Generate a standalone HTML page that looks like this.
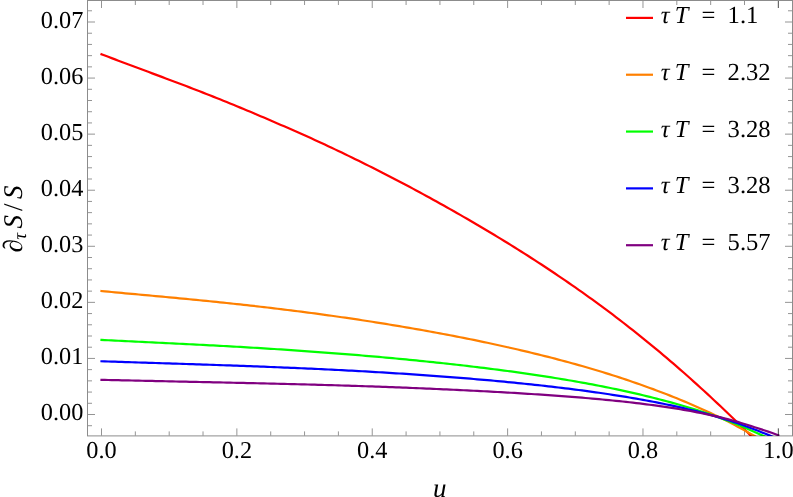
<!DOCTYPE html>
<html><head><meta charset="utf-8"><title>plot</title>
<style>html,body{margin:0;padding:0;background:#fff;}svg{display:block;will-change:transform;}text{text-rendering:geometricPrecision;font-family:"Liberation Serif",serif;fill:#000;}</style></head>
<body>
<svg width="793" height="497" viewBox="0 0 793 497" role="img" aria-label="Plot of d_tau S / S versus u for tau T = 1.1, 2.32, 3.28, 3.28, 5.57">
<title>Plot of ∂τS/S versus u for several values of τT</title>
<rect width="793" height="497" fill="#fff"/>
<defs><clipPath id="cp"><rect x="87.50" y="0.50" width="705.00" height="435.40"/></clipPath></defs>
<g clip-path="url(#cp)" fill="none" stroke-width="2.20" stroke-linejoin="round" stroke-linecap="square">
<path stroke="#ff0000" d="M101.50 54.25 L104.88 55.55 L108.27 56.84 L111.65 58.12 L115.04 59.40 L118.42 60.68 L121.81 61.95 L125.19 63.23 L128.57 64.50 L131.96 65.76 L135.34 67.03 L138.73 68.29 L142.11 69.56 L145.50 70.82 L148.88 72.09 L152.26 73.35 L155.65 74.62 L159.03 75.88 L162.42 77.15 L165.80 78.42 L169.19 79.69 L172.57 80.96 L175.95 82.23 L179.34 83.51 L182.72 84.79 L186.11 86.07 L189.49 87.37 L192.87 88.67 L196.26 89.98 L199.64 91.29 L203.03 92.61 L206.41 93.94 L209.80 95.27 L213.18 96.61 L216.56 97.96 L219.95 99.32 L223.33 100.68 L226.72 102.05 L230.10 103.43 L233.49 104.82 L236.87 106.21 L240.25 107.61 L243.64 109.02 L247.02 110.44 L250.41 111.86 L253.79 113.29 L257.18 114.73 L260.56 116.17 L263.94 117.61 L267.33 119.06 L270.71 120.51 L274.10 121.97 L277.48 123.43 L280.87 124.89 L284.25 126.36 L287.63 127.84 L291.02 129.32 L294.40 130.81 L297.79 132.30 L301.17 133.81 L304.56 135.32 L307.94 136.84 L311.32 138.37 L314.71 139.91 L318.09 141.46 L321.48 143.02 L324.86 144.59 L328.24 146.17 L331.63 147.76 L335.01 149.37 L338.40 150.99 L341.78 152.61 L345.17 154.24 L348.55 155.88 L351.93 157.53 L355.32 159.18 L358.70 160.84 L362.09 162.52 L365.47 164.19 L368.86 165.88 L372.24 167.58 L375.62 169.28 L379.01 171.00 L382.39 172.72 L385.78 174.45 L389.16 176.19 L392.55 177.94 L395.93 179.70 L399.31 181.47 L402.70 183.25 L406.08 185.04 L409.47 186.84 L412.85 188.65 L416.24 190.47 L419.62 192.30 L423.00 194.13 L426.39 195.98 L429.77 197.83 L433.16 199.69 L436.54 201.57 L439.93 203.44 L443.31 205.33 L446.69 207.23 L450.08 209.14 L453.46 211.05 L456.85 212.98 L460.23 214.91 L463.61 216.85 L467.00 218.81 L470.38 220.77 L473.77 222.74 L477.15 224.73 L480.54 226.72 L483.92 228.72 L487.30 230.74 L490.69 232.76 L494.07 234.80 L497.46 236.84 L500.84 238.90 L504.23 240.97 L507.61 243.05 L510.99 245.14 L514.38 247.25 L517.76 249.36 L521.15 251.49 L524.53 253.64 L527.92 255.79 L531.30 257.96 L534.68 260.14 L538.07 262.34 L541.45 264.54 L544.84 266.77 L548.22 269.00 L551.61 271.25 L554.99 273.52 L558.37 275.80 L561.76 278.10 L565.14 280.41 L568.53 282.73 L571.91 285.07 L575.30 287.43 L578.68 289.81 L582.06 292.20 L585.45 294.60 L588.83 297.03 L592.22 299.47 L595.60 301.93 L598.98 304.41 L602.37 306.90 L605.75 309.41 L609.14 311.94 L612.52 314.49 L615.91 317.06 L619.29 319.64 L622.67 322.25 L626.06 324.87 L629.44 327.51 L632.83 330.18 L636.21 332.86 L639.60 335.56 L642.98 338.28 L646.36 341.03 L649.75 343.79 L653.13 346.57 L656.52 349.37 L659.90 352.20 L663.29 355.04 L666.67 357.91 L670.05 360.79 L673.44 363.70 L676.82 366.63 L680.21 369.57 L683.59 372.54 L686.98 375.53 L690.36 378.54 L693.74 381.57 L697.13 384.63 L700.51 387.70 L703.90 390.79 L707.28 393.91 L710.67 397.04 L714.05 400.20 L717.43 403.37 L720.82 406.57 L724.20 409.78 L727.59 413.01 L730.97 416.27 L734.35 419.54 L737.74 422.83 L741.12 426.14 L744.51 429.47 L747.89 432.81 L751.28 436.17 L754.66 439.55 L758.04 442.95 L761.43 446.36 L764.81 449.79 L768.20 453.23 L771.58 456.68 L774.97 460.15 L778.35 463.63"/>
<path stroke="#ff8000" d="M101.50 291.05 L104.88 291.37 L108.27 291.70 L111.65 292.01 L115.04 292.33 L118.42 292.65 L121.81 292.96 L125.19 293.28 L128.57 293.59 L131.96 293.90 L135.34 294.21 L138.73 294.52 L142.11 294.83 L145.50 295.14 L148.88 295.45 L152.26 295.76 L155.65 296.08 L159.03 296.39 L162.42 296.70 L165.80 297.02 L169.19 297.33 L172.57 297.65 L175.95 297.97 L179.34 298.29 L182.72 298.61 L186.11 298.94 L189.49 299.26 L192.87 299.59 L196.26 299.92 L199.64 300.25 L203.03 300.59 L206.41 300.93 L209.80 301.27 L213.18 301.61 L216.56 301.95 L219.95 302.30 L223.33 302.65 L226.72 303.01 L230.10 303.36 L233.49 303.73 L236.87 304.09 L240.25 304.46 L243.64 304.83 L247.02 305.20 L250.41 305.58 L253.79 305.96 L257.18 306.34 L260.56 306.73 L263.94 307.12 L267.33 307.52 L270.71 307.92 L274.10 308.32 L277.48 308.72 L280.87 309.13 L284.25 309.55 L287.63 309.97 L291.02 310.39 L294.40 310.81 L297.79 311.25 L301.17 311.68 L304.56 312.12 L307.94 312.56 L311.32 313.01 L314.71 313.46 L318.09 313.91 L321.48 314.37 L324.86 314.83 L328.24 315.30 L331.63 315.77 L335.01 316.25 L338.40 316.73 L341.78 317.22 L345.17 317.71 L348.55 318.20 L351.93 318.70 L355.32 319.20 L358.70 319.71 L362.09 320.22 L365.47 320.74 L368.86 321.26 L372.24 321.78 L375.62 322.32 L379.01 322.85 L382.39 323.39 L385.78 323.94 L389.16 324.49 L392.55 325.04 L395.93 325.60 L399.31 326.16 L402.70 326.73 L406.08 327.31 L409.47 327.89 L412.85 328.47 L416.24 329.06 L419.62 329.66 L423.00 330.26 L426.39 330.87 L429.77 331.48 L433.16 332.09 L436.54 332.72 L439.93 333.34 L443.31 333.98 L446.69 334.62 L450.08 335.26 L453.46 335.91 L456.85 336.57 L460.23 337.24 L463.61 337.90 L467.00 338.58 L470.38 339.26 L473.77 339.95 L477.15 340.65 L480.54 341.35 L483.92 342.06 L487.30 342.77 L490.69 343.49 L494.07 344.22 L497.46 344.96 L500.84 345.70 L504.23 346.45 L507.61 347.21 L510.99 347.97 L514.38 348.75 L517.76 349.53 L521.15 350.32 L524.53 351.12 L527.92 351.92 L531.30 352.73 L534.68 353.56 L538.07 354.39 L541.45 355.23 L544.84 356.08 L548.22 356.94 L551.61 357.80 L554.99 358.68 L558.37 359.57 L561.76 360.46 L565.14 361.37 L568.53 362.29 L571.91 363.22 L575.30 364.15 L578.68 365.10 L582.06 366.06 L585.45 367.03 L588.83 368.02 L592.22 369.01 L595.60 370.02 L598.98 371.03 L602.37 372.06 L605.75 373.11 L609.14 374.16 L612.52 375.23 L615.91 376.31 L619.29 377.41 L622.67 378.52 L626.06 379.64 L629.44 380.77 L632.83 381.93 L636.21 383.09 L639.60 384.27 L642.98 385.47 L646.36 386.68 L649.75 387.91 L653.13 389.15 L656.52 390.41 L659.90 391.69 L663.29 392.98 L666.67 394.29 L670.05 395.62 L673.44 396.97 L676.82 398.33 L680.21 399.72 L683.59 401.12 L686.98 402.54 L690.36 403.98 L693.74 405.44 L697.13 406.92 L700.51 408.42 L703.90 409.95 L707.28 411.49 L710.67 413.05 L714.05 414.64 L717.43 416.25 L720.82 417.91 L724.20 419.60 L727.59 421.33 L730.97 423.09 L734.35 424.88 L737.74 426.69 L741.12 428.52 L744.51 430.38 L747.89 432.25 L751.28 434.13 L754.66 436.02 L758.04 437.92 L761.43 439.86 L764.81 441.82 L768.20 443.80 L771.58 445.82 L774.97 447.87 L778.35 449.94"/>
<path stroke="#00ff00" d="M101.50 339.88 L104.88 340.06 L108.27 340.23 L111.65 340.41 L115.04 340.58 L118.42 340.75 L121.81 340.92 L125.19 341.09 L128.57 341.25 L131.96 341.42 L135.34 341.58 L138.73 341.75 L142.11 341.91 L145.50 342.08 L148.88 342.24 L152.26 342.41 L155.65 342.57 L159.03 342.74 L162.42 342.90 L165.80 343.07 L169.19 343.23 L172.57 343.40 L175.95 343.56 L179.34 343.73 L182.72 343.90 L186.11 344.07 L189.49 344.24 L192.87 344.41 L196.26 344.58 L199.64 344.76 L203.03 344.93 L206.41 345.11 L209.80 345.29 L213.18 345.47 L216.56 345.65 L219.95 345.83 L223.33 346.01 L226.72 346.20 L230.10 346.39 L233.49 346.58 L236.87 346.77 L240.25 346.96 L243.64 347.16 L247.02 347.35 L250.41 347.55 L253.79 347.76 L257.18 347.96 L260.56 348.16 L263.94 348.37 L267.33 348.58 L270.71 348.80 L274.10 349.01 L277.48 349.23 L280.87 349.45 L284.25 349.67 L287.63 349.89 L291.02 350.12 L294.40 350.35 L297.79 350.58 L301.17 350.82 L304.56 351.05 L307.94 351.29 L311.32 351.53 L314.71 351.78 L318.09 352.03 L321.48 352.28 L324.86 352.53 L328.24 352.78 L331.63 353.04 L335.01 353.30 L338.40 353.57 L341.78 353.83 L345.17 354.10 L348.55 354.37 L351.93 354.65 L355.32 354.93 L358.70 355.21 L362.09 355.49 L365.47 355.78 L368.86 356.07 L372.24 356.36 L375.62 356.65 L379.01 356.95 L382.39 357.26 L385.78 357.56 L389.16 357.87 L392.55 358.18 L395.93 358.49 L399.31 358.81 L402.70 359.13 L406.08 359.46 L409.47 359.79 L412.85 360.12 L416.24 360.45 L419.62 360.79 L423.00 361.13 L426.39 361.48 L429.77 361.83 L433.16 362.18 L436.54 362.54 L439.93 362.90 L443.31 363.26 L446.69 363.63 L450.08 364.00 L453.46 364.38 L456.85 364.76 L460.23 365.14 L463.61 365.53 L467.00 365.92 L470.38 366.32 L473.77 366.72 L477.15 367.13 L480.54 367.54 L483.92 367.96 L487.30 368.38 L490.69 368.80 L494.07 369.23 L497.46 369.67 L500.84 370.11 L504.23 370.56 L507.61 371.01 L510.99 371.46 L514.38 371.93 L517.76 372.40 L521.15 372.87 L524.53 373.35 L527.92 373.84 L531.30 374.33 L534.68 374.83 L538.07 375.34 L541.45 375.85 L544.84 376.37 L548.22 376.89 L551.61 377.43 L554.99 377.97 L558.37 378.52 L561.76 379.07 L565.14 379.64 L568.53 380.21 L571.91 380.79 L575.30 381.38 L578.68 381.98 L582.06 382.58 L585.45 383.20 L588.83 383.82 L592.22 384.45 L595.60 385.10 L598.98 385.75 L602.37 386.41 L605.75 387.09 L609.14 387.77 L612.52 388.46 L615.91 389.17 L619.29 389.89 L622.67 390.62 L626.06 391.36 L629.44 392.11 L632.83 392.87 L636.21 393.65 L639.60 394.44 L642.98 395.24 L646.36 396.06 L649.75 396.89 L653.13 397.73 L656.52 398.59 L659.90 399.46 L663.29 400.35 L666.67 401.26 L670.05 402.17 L673.44 403.11 L676.82 404.06 L680.21 405.03 L683.59 406.02 L686.98 407.02 L690.36 408.04 L693.74 409.08 L697.13 410.14 L700.51 411.21 L703.90 412.31 L707.28 413.42 L710.67 414.56 L714.05 415.72 L717.43 416.90 L720.82 418.12 L724.20 419.37 L727.59 420.65 L730.97 421.97 L734.35 423.32 L737.74 424.69 L741.12 426.09 L744.51 427.51 L747.89 428.96 L751.28 430.42 L754.66 431.91 L758.04 433.41 L761.43 434.93 L764.81 436.46 L768.20 438.01 L771.58 439.59 L774.97 441.20 L778.35 442.84"/>
<path stroke="#0000ff" d="M101.50 361.27 L104.88 361.38 L108.27 361.49 L111.65 361.60 L115.04 361.71 L118.42 361.82 L121.81 361.93 L125.19 362.04 L128.57 362.15 L131.96 362.26 L135.34 362.37 L138.73 362.48 L142.11 362.58 L145.50 362.69 L148.88 362.80 L152.26 362.91 L155.65 363.02 L159.03 363.12 L162.42 363.23 L165.80 363.34 L169.19 363.45 L172.57 363.56 L175.95 363.66 L179.34 363.77 L182.72 363.88 L186.11 363.99 L189.49 364.10 L192.87 364.21 L196.26 364.32 L199.64 364.43 L203.03 364.55 L206.41 364.66 L209.80 364.77 L213.18 364.89 L216.56 365.00 L219.95 365.12 L223.33 365.23 L226.72 365.35 L230.10 365.47 L233.49 365.59 L236.87 365.71 L240.25 365.83 L243.64 365.95 L247.02 366.08 L250.41 366.20 L253.79 366.33 L257.18 366.46 L260.56 366.59 L263.94 366.72 L267.33 366.85 L270.71 366.98 L274.10 367.12 L277.48 367.25 L280.87 367.39 L284.25 367.53 L287.63 367.67 L291.02 367.81 L294.40 367.96 L297.79 368.11 L301.17 368.25 L304.56 368.40 L307.94 368.56 L311.32 368.71 L314.71 368.87 L318.09 369.02 L321.48 369.18 L324.86 369.35 L328.24 369.51 L331.63 369.68 L335.01 369.84 L338.40 370.02 L341.78 370.19 L345.17 370.36 L348.55 370.54 L351.93 370.72 L355.32 370.90 L358.70 371.09 L362.09 371.27 L365.47 371.46 L368.86 371.65 L372.24 371.85 L375.62 372.05 L379.01 372.24 L382.39 372.45 L385.78 372.65 L389.16 372.86 L392.55 373.07 L395.93 373.28 L399.31 373.50 L402.70 373.71 L406.08 373.93 L409.47 374.16 L412.85 374.38 L416.24 374.61 L419.62 374.85 L423.00 375.08 L426.39 375.32 L429.77 375.56 L433.16 375.81 L436.54 376.05 L439.93 376.30 L443.31 376.56 L446.69 376.81 L450.08 377.07 L453.46 377.34 L456.85 377.60 L460.23 377.87 L463.61 378.15 L467.00 378.43 L470.38 378.71 L473.77 378.99 L477.15 379.28 L480.54 379.57 L483.92 379.87 L487.30 380.16 L490.69 380.47 L494.07 380.77 L497.46 381.09 L500.84 381.40 L504.23 381.72 L507.61 382.04 L510.99 382.37 L514.38 382.70 L517.76 383.04 L521.15 383.38 L524.53 383.73 L527.92 384.08 L531.30 384.44 L534.68 384.80 L538.07 385.16 L541.45 385.53 L544.84 385.91 L548.22 386.29 L551.61 386.68 L554.99 387.07 L558.37 387.47 L561.76 387.88 L565.14 388.29 L568.53 388.71 L571.91 389.13 L575.30 389.56 L578.68 390.00 L582.06 390.44 L585.45 390.90 L588.83 391.36 L592.22 391.82 L595.60 392.30 L598.98 392.78 L602.37 393.27 L605.75 393.77 L609.14 394.27 L612.52 394.79 L615.91 395.32 L619.29 395.85 L622.67 396.39 L626.06 396.95 L629.44 397.51 L632.83 398.09 L636.21 398.67 L639.60 399.27 L642.98 399.87 L646.36 400.49 L649.75 401.12 L653.13 401.77 L656.52 402.42 L659.90 403.09 L663.29 403.77 L666.67 404.47 L670.05 405.18 L673.44 405.90 L676.82 406.64 L680.21 407.39 L683.59 408.16 L686.98 408.95 L690.36 409.75 L693.74 410.57 L697.13 411.41 L700.51 412.26 L703.90 413.14 L707.28 414.03 L710.67 414.94 L714.05 415.87 L717.43 416.83 L720.82 417.83 L724.20 418.86 L727.59 419.92 L730.97 421.02 L734.35 422.15 L737.74 423.32 L741.12 424.51 L744.51 425.72 L747.89 426.97 L751.28 428.24 L754.66 429.53 L758.04 430.84 L761.43 432.17 L764.81 433.53 L768.20 434.89 L771.58 436.28 L774.97 437.68 L778.35 439.12"/>
<path stroke="#800080" d="M101.50 379.83 L104.88 379.91 L108.27 379.98 L111.65 380.06 L115.04 380.13 L118.42 380.21 L121.81 380.29 L125.19 380.36 L128.57 380.44 L131.96 380.51 L135.34 380.59 L138.73 380.67 L142.11 380.74 L145.50 380.82 L148.88 380.89 L152.26 380.97 L155.65 381.04 L159.03 381.12 L162.42 381.19 L165.80 381.27 L169.19 381.34 L172.57 381.41 L175.95 381.49 L179.34 381.56 L182.72 381.63 L186.11 381.71 L189.49 381.78 L192.87 381.85 L196.26 381.93 L199.64 382.00 L203.03 382.07 L206.41 382.14 L209.80 382.22 L213.18 382.29 L216.56 382.36 L219.95 382.44 L223.33 382.51 L226.72 382.58 L230.10 382.66 L233.49 382.73 L236.87 382.80 L240.25 382.88 L243.64 382.95 L247.02 383.03 L250.41 383.11 L253.79 383.18 L257.18 383.26 L260.56 383.34 L263.94 383.42 L267.33 383.50 L270.71 383.58 L274.10 383.66 L277.48 383.74 L280.87 383.82 L284.25 383.90 L287.63 383.99 L291.02 384.07 L294.40 384.16 L297.79 384.24 L301.17 384.33 L304.56 384.42 L307.94 384.51 L311.32 384.60 L314.71 384.69 L318.09 384.79 L321.48 384.88 L324.86 384.98 L328.24 385.08 L331.63 385.17 L335.01 385.27 L338.40 385.37 L341.78 385.48 L345.17 385.58 L348.55 385.69 L351.93 385.79 L355.32 385.90 L358.70 386.01 L362.09 386.12 L365.47 386.24 L368.86 386.35 L372.24 386.47 L375.62 386.58 L379.01 386.70 L382.39 386.82 L385.78 386.94 L389.16 387.07 L392.55 387.19 L395.93 387.32 L399.31 387.45 L402.70 387.58 L406.08 387.71 L409.47 387.85 L412.85 387.98 L416.24 388.12 L419.62 388.26 L423.00 388.40 L426.39 388.54 L429.77 388.69 L433.16 388.83 L436.54 388.98 L439.93 389.13 L443.31 389.29 L446.69 389.44 L450.08 389.60 L453.46 389.75 L456.85 389.91 L460.23 390.08 L463.61 390.24 L467.00 390.41 L470.38 390.57 L473.77 390.74 L477.15 390.92 L480.54 391.09 L483.92 391.27 L487.30 391.45 L490.69 391.63 L494.07 391.81 L497.46 392.00 L500.84 392.19 L504.23 392.38 L507.61 392.57 L510.99 392.77 L514.38 392.97 L517.76 393.17 L521.15 393.38 L524.53 393.59 L527.92 393.80 L531.30 394.01 L534.68 394.23 L538.07 394.45 L541.45 394.68 L544.84 394.91 L548.22 395.14 L551.61 395.38 L554.99 395.62 L558.37 395.86 L561.76 396.11 L565.14 396.36 L568.53 396.62 L571.91 396.88 L575.30 397.15 L578.68 397.42 L582.06 397.70 L585.45 397.98 L588.83 398.27 L592.22 398.57 L595.60 398.87 L598.98 399.17 L602.37 399.49 L605.75 399.81 L609.14 400.14 L612.52 400.47 L615.91 400.81 L619.29 401.16 L622.67 401.52 L626.06 401.89 L629.44 402.27 L632.83 402.65 L636.21 403.05 L639.60 403.46 L642.98 403.87 L646.36 404.30 L649.75 404.74 L653.13 405.19 L656.52 405.65 L659.90 406.12 L663.29 406.61 L666.67 407.11 L670.05 407.62 L673.44 408.15 L676.82 408.70 L680.21 409.26 L683.59 409.83 L686.98 410.42 L690.36 411.03 L693.74 411.66 L697.13 412.30 L700.51 412.97 L703.90 413.65 L707.28 414.36 L710.67 415.08 L714.05 415.83 L717.43 416.60 L720.82 417.39 L724.20 418.23 L727.59 419.10 L730.97 420.00 L734.35 420.95 L737.74 421.92 L741.12 422.93 L744.51 423.96 L747.89 425.01 L751.28 426.09 L754.66 427.19 L758.04 428.31 L761.43 429.42 L764.81 430.52 L768.20 431.64 L771.58 432.79 L774.97 434.01 L778.35 435.31"/>
</g>
<path fill="none" stroke="#000" stroke-opacity="0.42" stroke-width="1" d="M101.50 435.40 v-7.00 M101.50 1.00 v7.00 M135.34 435.40 v-4.00 M135.34 1.00 v4.00 M169.19 435.40 v-4.00 M169.19 1.00 v4.00 M203.03 435.40 v-4.00 M203.03 1.00 v4.00 M236.87 435.40 v-7.00 M236.87 1.00 v7.00 M270.71 435.40 v-4.00 M270.71 1.00 v4.00 M304.56 435.40 v-4.00 M304.56 1.00 v4.00 M338.40 435.40 v-4.00 M338.40 1.00 v4.00 M372.24 435.40 v-7.00 M372.24 1.00 v7.00 M406.08 435.40 v-4.00 M406.08 1.00 v4.00 M439.93 435.40 v-4.00 M439.93 1.00 v4.00 M473.77 435.40 v-4.00 M473.77 1.00 v4.00 M507.61 435.40 v-7.00 M507.61 1.00 v7.00 M541.45 435.40 v-4.00 M541.45 1.00 v4.00 M575.30 435.40 v-4.00 M575.30 1.00 v4.00 M609.14 435.40 v-4.00 M609.14 1.00 v4.00 M642.98 435.40 v-7.00 M642.98 1.00 v7.00 M676.82 435.40 v-4.00 M676.82 1.00 v4.00 M710.67 435.40 v-4.00 M710.67 1.00 v4.00 M744.51 435.40 v-4.00 M744.51 1.00 v4.00 M778.35 435.40 v-7.00 M778.35 1.00 v7.00 M88.00 425.71 h4.00 M792.00 425.71 h-4.00 M88.00 414.50 h7.00 M792.00 414.50 h-7.00 M88.00 403.29 h4.00 M792.00 403.29 h-4.00 M88.00 392.07 h4.00 M792.00 392.07 h-4.00 M88.00 380.86 h4.00 M792.00 380.86 h-4.00 M88.00 369.64 h4.00 M792.00 369.64 h-4.00 M88.00 358.43 h7.00 M792.00 358.43 h-7.00 M88.00 347.21 h4.00 M792.00 347.21 h-4.00 M88.00 336.00 h4.00 M792.00 336.00 h-4.00 M88.00 324.79 h4.00 M792.00 324.79 h-4.00 M88.00 313.57 h4.00 M792.00 313.57 h-4.00 M88.00 302.36 h7.00 M792.00 302.36 h-7.00 M88.00 291.14 h4.00 M792.00 291.14 h-4.00 M88.00 279.93 h4.00 M792.00 279.93 h-4.00 M88.00 268.72 h4.00 M792.00 268.72 h-4.00 M88.00 257.50 h4.00 M792.00 257.50 h-4.00 M88.00 246.29 h7.00 M792.00 246.29 h-7.00 M88.00 235.07 h4.00 M792.00 235.07 h-4.00 M88.00 223.86 h4.00 M792.00 223.86 h-4.00 M88.00 212.64 h4.00 M792.00 212.64 h-4.00 M88.00 201.43 h4.00 M792.00 201.43 h-4.00 M88.00 190.22 h7.00 M792.00 190.22 h-7.00 M88.00 179.00 h4.00 M792.00 179.00 h-4.00 M88.00 167.79 h4.00 M792.00 167.79 h-4.00 M88.00 156.57 h4.00 M792.00 156.57 h-4.00 M88.00 145.36 h4.00 M792.00 145.36 h-4.00 M88.00 134.14 h7.00 M792.00 134.14 h-7.00 M88.00 122.93 h4.00 M792.00 122.93 h-4.00 M88.00 111.72 h4.00 M792.00 111.72 h-4.00 M88.00 100.50 h4.00 M792.00 100.50 h-4.00 M88.00 89.29 h4.00 M792.00 89.29 h-4.00 M88.00 78.07 h7.00 M792.00 78.07 h-7.00 M88.00 66.86 h4.00 M792.00 66.86 h-4.00 M88.00 55.65 h4.00 M792.00 55.65 h-4.00 M88.00 44.43 h4.00 M792.00 44.43 h-4.00 M88.00 33.22 h4.00 M792.00 33.22 h-4.00 M88.00 22.00 h7.00 M792.00 22.00 h-7.00 M88.00 10.79 h4.00 M792.00 10.79 h-4.00"/>
<path fill="none" stroke="#000" stroke-opacity="0.42" stroke-width="1" d="M778.35 435.40 v-7.00 M778.35 1.00 v7.00"/>
<rect x="87.5" y="0.5" width="705.0" height="435.4" fill="none" stroke="#000" stroke-opacity="0.45" stroke-width="1"/>
<g font-size="24.30">
<text x="101.50" y="458.30" text-anchor="middle">0.0</text>
<text x="236.87" y="458.30" text-anchor="middle">0.2</text>
<text x="372.24" y="458.30" text-anchor="middle">0.4</text>
<text x="507.61" y="458.30" text-anchor="middle">0.6</text>
<text x="642.98" y="458.30" text-anchor="middle">0.8</text>
<text x="778.35" y="458.30" text-anchor="middle">1.0</text>
<text x="83.40" y="420.00" text-anchor="end">0.00</text>
<text x="83.40" y="364.07" text-anchor="end">0.01</text>
<text x="83.40" y="308.14" text-anchor="end">0.02</text>
<text x="83.40" y="252.21" text-anchor="end">0.03</text>
<text x="83.40" y="196.28" text-anchor="end">0.04</text>
<text x="83.40" y="140.35" text-anchor="end">0.05</text>
<text x="83.40" y="84.42" text-anchor="end">0.06</text>
<text x="83.40" y="28.49" text-anchor="end">0.07</text>
</g>
<g stroke-width="2.20" fill="none">
<path stroke="#ff0000" d="M626.00 17.90 H653.00"/>
<path stroke="#ff8000" d="M626.00 74.73 H653.00"/>
<path stroke="#00ff00" d="M626.00 131.56 H653.00"/>
<path stroke="#0000ff" d="M626.00 188.39 H653.00"/>
<path stroke="#800080" d="M626.00 245.22 H653.00"/>
</g>
<g fill="#000">
<text y="22.90" font-size="24.6"><tspan x="660.8" font-style="italic">τ</tspan><tspan x="674.8" font-style="italic">T</tspan><tspan x="701.5">=</tspan><tspan x="727.6">1.1</tspan></text>
<text y="79.73" font-size="24.6"><tspan x="660.8" font-style="italic">τ</tspan><tspan x="674.8" font-style="italic">T</tspan><tspan x="701.5">=</tspan><tspan x="727.6">2.32</tspan></text>
<text y="136.56" font-size="24.6"><tspan x="660.8" font-style="italic">τ</tspan><tspan x="674.8" font-style="italic">T</tspan><tspan x="701.5">=</tspan><tspan x="727.6">3.28</tspan></text>
<text y="193.39" font-size="24.6"><tspan x="660.8" font-style="italic">τ</tspan><tspan x="674.8" font-style="italic">T</tspan><tspan x="701.5">=</tspan><tspan x="727.6">3.28</tspan></text>
<text y="250.22" font-size="24.6"><tspan x="660.8" font-style="italic">τ</tspan><tspan x="674.8" font-style="italic">T</tspan><tspan x="701.5">=</tspan><tspan x="727.6">5.57</tspan></text>
<text x="433.0" y="497.20" font-size="27" font-style="italic">u</text>
<g transform="translate(21.80 253.10) rotate(-90)">
<text x="0.5" y="0" font-size="27" font-style="italic">∂</text>
<text x="13.4" y="4" font-size="19" font-style="italic">τ</text>
<text x="24.5" y="0" font-size="27" font-style="italic">S</text>
<text x="42.0" y="0" font-size="27">/</text>
<text x="54.0" y="0" font-size="27" font-style="italic">S</text>
</g>
</g>
</svg>
</body></html>
